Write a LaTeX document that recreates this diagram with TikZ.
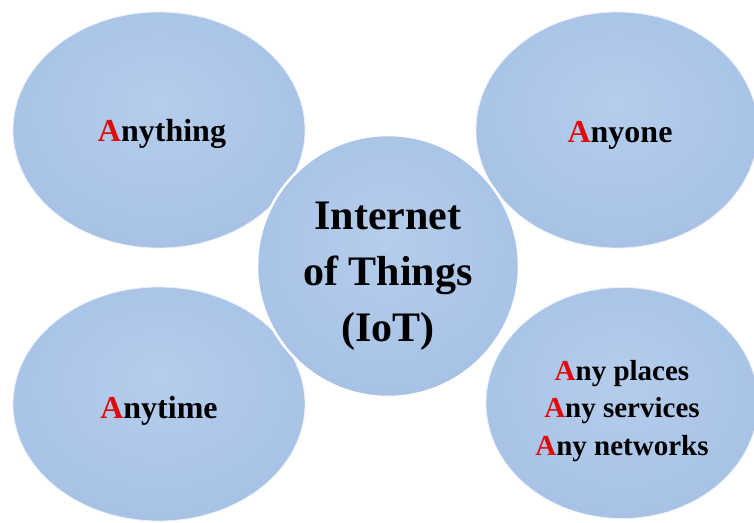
\documentclass[tikz,border=0pt]{standalone}
\usepackage{fontspec}
\setmainfont{Liberation Serif}
\usetikzlibrary{shapes.geometric}
\definecolor{orbA}{RGB}{182,205,236}
\definecolor{orbB}{RGB}{168,195,230}
\definecolor{orbC}{RGB}{148,178,218}
\definecolor{orbD}{RGB}{130,162,205}
\definecolor{redA}{RGB}{225,10,10}
\pgfdeclareradialshading{orb}{\pgfpoint{0bp}{6bp}}{color(0bp)=(orbA); color(26bp)=(orbB); color(42bp)=(orbC); color(50bp)=(orbD)}
\newcommand{\RA}{\textcolor{redA}{A}}
\tikzset{
  orbit/.style={ellipse, shading=orb, draw=white!80!orbC, line width=0.8pt, inner sep=0pt},
  hub/.style={circle, shading=orb, draw=white, line width=2.5pt, inner sep=0pt, minimum size=262pt},
  lbl/.style={anchor=base, align=center, inner sep=0pt, font=\bfseries\fontsize{32}{37}\selectfont},
  lblsm/.style={anchor=base, align=center, inner sep=0pt, font=\bfseries\fontsize{29}{37.5}\selectfont},
  hubtext/.style={anchor=base, align=center, inner sep=0pt, font=\bfseries\fontsize{42}{56}\selectfont}
}
\begin{document}
\begin{tikzpicture}[x=1pt,y=1pt]
\useasboundingbox (0,0) rectangle (754,522);
\fill[white] (0,0) rectangle (754,522);
\node[orbit, minimum width=292pt, minimum height=236pt] (tl) at (159,392) {};
\node[orbit, minimum width=282pt, minimum height=236pt] (tr) at (617,392) {};
\node[orbit, minimum width=292pt, minimum height=234pt] (bl) at (159,118) {};
\node[orbit, minimum width=272pt, minimum height=231pt] (br) at (622,119) {};
\node[hub] (c) at (388,256) {};
\node[lbl] (tlt) at (162,380) {\RA nything};
\node[lbl] (trt) at (620,379) {\RA nyone};
\node[lbl] (blt) at (159,104) {\RA nytime};
\node[lblsm] (brt) at (622,67) {\RA ny places\\\RA ny services\\\RA ny networks};
\node[hubtext] (ct) at (388,180) {Internet\\of Things\\(IoT)};
\end{tikzpicture}
\end{document}
